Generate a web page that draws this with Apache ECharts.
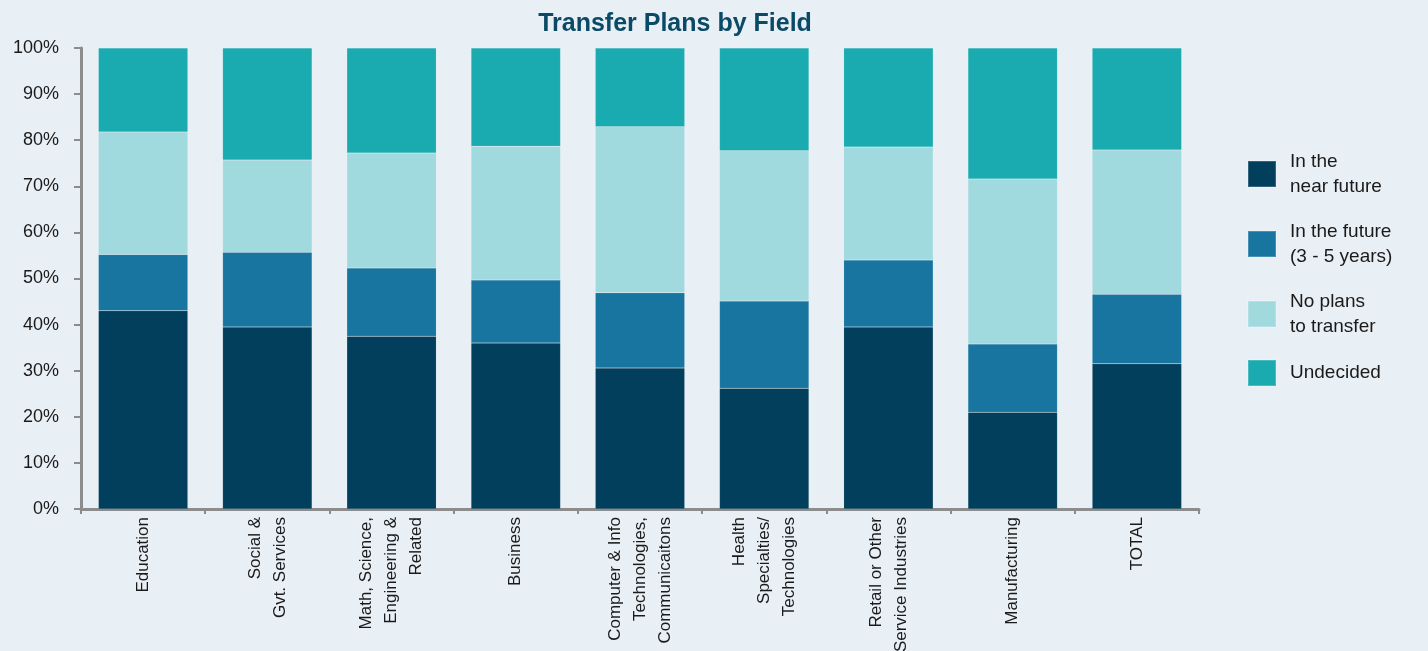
<!DOCTYPE html>
<html>
<head>
<meta charset="utf-8">
<script src="https://cdn.jsdelivr.net/npm/echarts@6/dist/echarts.min.js"></script>
<style>
  html, body { margin: 0; padding: 0; background: #E8EFF5; }
  #main { width: 1428px; height: 651px; }
</style>
</head>
<body>
<div id="main"></div>
<script>
const categories = [
  'Education',
  'Social &\nGvt. Services',
  'Math, Science,\nEngineering &\nRelated',
  'Business',
  'Computer & Info\nTechnologies,\nCommunicaitons',
  'Health\nSpecialties/\nTechnologies',
  'Retail or Other\nService Industries',
  'Manufacturing',
  'TOTAL'
];
const nearFuture = [43.0, 39.5, 37.5, 36.0, 30.6, 26.2, 39.5, 21.0, 31.5];
const future35   = [12.2, 16.2, 14.8, 13.7, 16.3, 18.9, 14.5, 14.8, 15.1];
const noPlans    = [26.6, 20.0, 24.9, 29.0, 36.0, 32.6, 24.5, 35.8, 31.3];
const undecided  = [18.2, 24.3, 22.8, 21.3, 17.1, 22.3, 21.5, 28.4, 22.1];
const yTicks = [0, 10, 20, 30, 40, 50, 60, 70, 80, 90, 100];

const chart = echarts.init(document.getElementById('main'));

function bar(name, data, color) {
  return {
    name: name,
    type: 'bar',
    stack: 'all',
    data: data,
    barCategoryGap: '28%',
    itemStyle: { color: color, borderColor: 'rgba(255,255,255,0.2)', borderWidth: 0.5 }
  };
}

const option = {
  backgroundColor: '#E8EFF5',
  title: {
    text: 'Transfer Plans by Field',
    left: 670,
    textAlign: 'center',
    top: 7,
    textStyle: {
      fontFamily: 'Liberation Sans Narrow, Arial Narrow, Liberation Sans, sans-serif',
      fontSize: 25,
      fontWeight: 'bold',
      color: '#0B4A66'
    }
  },
  legend: {
    orient: 'vertical',
    left: 1242,
    top: 144,
    icon: 'rect',
    itemWidth: 28,
    itemHeight: 26,
    itemGap: 20,
    textStyle: {
      fontFamily: 'Liberation Sans, Arial, sans-serif',
      fontSize: 19,
      color: '#1a1a1a',
      lineHeight: 25,
      padding: [0, 0, 0, 9]
    },
    data: ['In the\nnear future', 'In the future\n(3 - 5 years)', 'No plans\nto transfer', 'Undecided']
  },
  grid: { left: 81, right: 229, top: 48, bottom: 142, containLabel: false, outerBoundsMode: 'none' },
  xAxis: {
    type: 'category',
    data: categories,
    axisLine: { lineStyle: { color: '#8c8c8c', width: 3 } },
    axisTick: { show: true, length: 5, lineStyle: { color: '#8c8c8c', width: 2 } },
    axisLabel: {
      rotate: 90,
      interval: 0,
      margin: 8,
      fontFamily: 'Liberation Sans, Arial, sans-serif',
      fontSize: 17,
      lineHeight: 25,
      color: '#1a1a1a',
      align: 'right'
    }
  },
  yAxis: {
    type: 'value',
    min: yTicks[0],
    max: yTicks[yTicks.length - 1],
    interval: 10,
    splitLine: { show: false },
    axisLine: { show: true, lineStyle: { color: '#8c8c8c', width: 3 } },
    axisTick: { show: true, length: 7, lineStyle: { color: '#8c8c8c', width: 2 } },
    axisLabel: {
      formatter: '{value}%',
      margin: 22,
      fontFamily: 'Liberation Sans, Arial, sans-serif',
      fontSize: 18,
      color: '#1a1a1a'
    }
  },
  series: [
    bar('In the\nnear future', nearFuture, '#023F5C'),
    bar('In the future\n(3 - 5 years)', future35, '#1775A0'),
    bar('No plans\nto transfer', noPlans, '#A0D9DE'),
    bar('Undecided', undecided, '#19ABAF')
  ]
};

chart.setOption(option);
</script>
</body>
</html>
